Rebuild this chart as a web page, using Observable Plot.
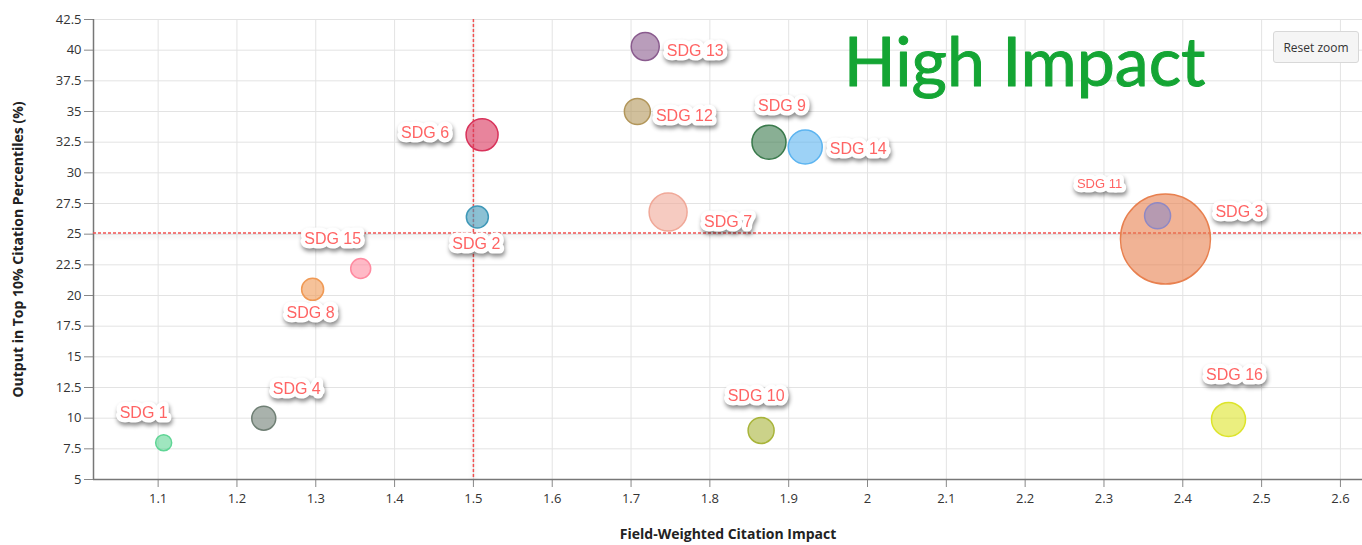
<!DOCTYPE html>
<html>
<head>
<meta charset="utf-8">
<script src="https://cdn.jsdelivr.net/npm/d3@7"></script>
<script src="https://cdn.jsdelivr.net/npm/@observablehq/plot@0.6"></script>
<style>
  html, body { margin: 0; padding: 0; background: #fff; }
  #wrap { position: relative; width: 1362px; height: 545px; }
  #reset { position: absolute; left: 1273px; top: 31px; width: 86px; height: 32px;
    background: #f5f5f5; border: 1px solid #d8d8d8; border-radius: 3px; box-sizing: border-box;
    font: 12px "Open Sans", sans-serif; color: #333; display: flex; align-items: center; justify-content: center; }
</style>
</head>
<body>
<div id="wrap"><div id="reset">Reset zoom</div></div>
<script>
// ---- data ----
const labels = ["SDG 1","SDG 2","SDG 3","SDG 4","SDG 6","SDG 7","SDG 8","SDG 9","SDG 10","SDG 11","SDG 12","SDG 13","SDG 14","SDG 15","SDG 16"];
const fwci   = [1.107, 1.505, 2.378, 1.234, 1.511, 1.747, 1.296, 1.875, 1.865, 2.368, 1.708, 1.718, 1.921, 1.357, 2.458];
const top10  = [8.0, 26.4, 24.6, 10.0, 33.1, 26.8, 20.5, 32.5, 9.0, 26.5, 35.0, 40.3, 32.1, 22.2, 9.9];
const size   = [64, 121, 2025, 144, 256, 361, 121, 289, 169, 169, 169, 196, 289, 100, 289];
const colors = ["#5fd595","#3f98b8","#e8804f","#6f7f74","#d8325a","#f0a898","#f09a55","#3a7a4c","#a8b43a","#8f88c4","#b2965a","#8a5b8e","#5cb4f0","#ff8aa0","#dde42a"];
const xTicks = [1.1,1.2,1.3,1.4,1.5,1.6,1.7,1.8,1.9,2,2.1,2.2,2.3,2.4,2.5,2.6];
const yTicks = [5,7.5,10,12.5,15,17.5,20,22.5,25,27.5,30,32.5,35,37.5,40,42.5];
const refX = [1.5];
const refY = [25.1];
const annotation = ["High Impact"];
const xLabel = "Field-Weighted Citation Impact";
const yLabel = "Output in Top 10% Citation Percentiles (%)";

// label placement offsets (px) relative to bubble centre
const labelOffset = {
  "SDG 1": [-20,-30], "SDG 2": [-1,27], "SDG 3": [74,-27], "SDG 4": [33,-29],
  "SDG 6": [-57,-2], "SDG 7": [60,10], "SDG 8": [-2,24], "SDG 9": [13,-36],
  "SDG 10": [-5,-35], "SDG 11": [-58,-32], "SDG 12": [47,4], "SDG 13": [50,4],
  "SDG 14": [53,2], "SDG 15": [-28,-30], "SDG 16": [6,-45]
};

const data = labels.map((l, i) => ({label: l, x: fwci[i], y: top10[i], size: size[i], color: colors[i]}));
const drawOrder = data.slice().sort((a, b) => b.size - a.size);
const LABEL_FILL = "#ff6464";

const labelMarks = data.map(d => Plot.text([d], {
  x: "x", y: "y", text: "label",
  dx: labelOffset[d.label][0], dy: labelOffset[d.label][1],
  fill: LABEL_FILL, stroke: "white", strokeWidth: 9, strokeLinejoin: "round",
  fontSize: d.label === "SDG 11" ? 13 : 16,
  fontFamily: "Liberation Sans, Arial, sans-serif"
}));

const refMarks = [
  Plot.ruleX(refX, {stroke: "#f05050", strokeWidth: 1.5, strokeDasharray: "3,2"}),
  Plot.ruleY(refY, {stroke: "#f05050", strokeWidth: 1.5, strokeDasharray: "3,2"})
];

const chart = Plot.plot({
  width: 1362, height: 545,
  marginLeft: 93, marginRight: 0, marginTop: 19, marginBottom: 66,
  style: {fontFamily: "'Open Sans', sans-serif", fontSize: "12px", color: "#333", background: "transparent"},
  x: {domain: [1.018, 2.628]},
  y: {domain: [5, 42.5]},
  r: {type: "sqrt", domain: [0, 2025], range: [0, 45]},
  marks: [
    Plot.gridX(xTicks, {stroke: "#e3e3e3", strokeOpacity: 1}),
    Plot.gridY(yTicks, {stroke: "#e3e3e3", strokeOpacity: 1}),
    Plot.axisX(xTicks, {tickSize: 8, tickPadding: 6, stroke: "#888", fontSize: 13, label: null, tickFormat: d => String(d)}),
    Plot.axisY(yTicks, {tickSize: 9, tickPadding: 3, stroke: "#888", fontSize: 13, label: null, tickFormat: d => String(d)}),
    Plot.ruleX([1.018], {stroke: "#777", strokeWidth: 1.5}),
    Plot.ruleY([5], {stroke: "#777", strokeWidth: 1.5}),
    ...refMarks,
    Plot.dot(drawOrder, {x: "x", y: "y", r: "size", fill: d => d.color, fillOpacity: 0.6, stroke: d => d.color, strokeWidth: 1.5}),
    ...labelMarks,
    Plot.text(annotation, {frameAnchor: "top-right", dx: -157, dy: 18, lineAnchor: "top", textAnchor: "end",
      fill: "#14a534", stroke: "#14a534", strokeWidth: 1, fontSize: 68, fontFamily: "Lato, sans-serif"}),
    Plot.text([xLabel], {frameAnchor: "bottom", dy: 55, lineAnchor: "middle", fontSize: 14, fontWeight: "bold", fill: "#222"}),
    Plot.text([yLabel], {frameAnchor: "left", dx: -75, rotate: -90, textAnchor: "middle", lineAnchor: "middle", fontSize: 14, fontWeight: "bold", fill: "#222"})
  ]
});
document.getElementById("wrap").prepend(chart);
chart.style.position = "absolute"; chart.style.left = "0"; chart.style.top = "0";

// soft shadows for the labels and reference lines
d3.select(chart).selectAll("g").filter(function() {
  const t = this.querySelector(":scope > text");
  return t && t.getAttribute("fill") === LABEL_FILL || this.getAttribute("fill") === LABEL_FILL;
}).style("filter", "drop-shadow(1px 3px 2px rgba(0,0,0,0.45))");
d3.select(chart).selectAll("g").filter(function() {
  return this.getAttribute("stroke-dasharray") === "3,2";
}).style("filter", "drop-shadow(0px 3px 2px rgba(0,0,0,0.2))");
</script>
</body>
</html>
